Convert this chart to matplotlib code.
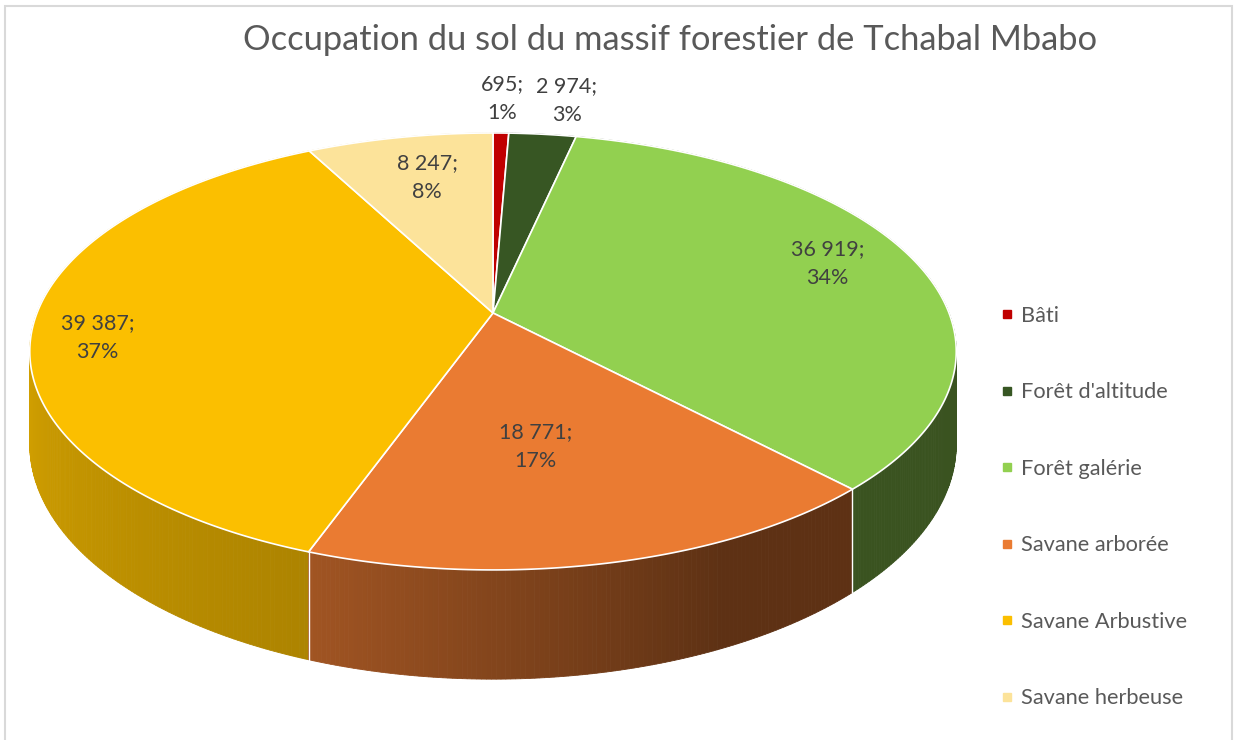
import numpy as np
import matplotlib
matplotlib.use("Agg")
import matplotlib.pyplot as plt
from matplotlib.patches import Polygon
from matplotlib.lines import Line2D
from matplotlib.colors import to_rgb

# ---------------- data ----------------
categories = ["Bâti", "Forêt d'altitude", "Forêt galérie",
              "Savane arborée", "Savane Arbustive", "Savane herbeuse"]
values = [695, 2974, 36919, 18771, 39387, 8247]
value_labels = ["695", "2 974", "36 919", "18 771", "39 387", "8 247"]
percent_labels = ["1%", "3%", "34%", "17%", "37%", "8%"]
colors = ["#C00000", "#375623", "#92D050", "#EA7B32", "#FBBF00", "#FCE39A"]
title = "Occupation du sol du massif forestier de Tchabal Mbabo"

# ---------------- style / geometry ----------------
W, H = 1234, 740
CX, CY = 493, 313          # pie apex
A, B, K, T = 456, 211.7, -0.176, 90   # perspective ellipse params, thickness
label_r = [1.23, 1.23, 0.79, 0.58, 0.86, 0.74]
label_dx = [0, 15, 0, -18, 0, 6]
label_dy = [0, 0, -6, 0, 12, 0]

FONT = ["Lato", "DejaVu Sans"]
plt.rcParams["font.family"] = FONT

fig = plt.figure(figsize=(W / 100, H / 100), dpi=100)
ax = fig.add_axes([0, 0, 1, 1])
ax.set_xlim(0, W)
ax.set_ylim(H, 0)
ax.axis("off")


def proj(r, phi, h=0.0):
    x = r * np.sin(phi)
    y = -r * np.cos(phi)
    w = 1 + K * y
    return CX + A * x / w, CY + (B * y + T * h) / w


def shade(phi_deg):
    return np.interp(phi_deg, [90, 155, 200, 265, 290], [0.40, 0.40, 0.69, 0.85, 0.86])


vals = np.array(values, dtype=float)
frac = vals / vals.sum()
bounds = np.concatenate([[0], np.cumsum(frac)]) * 2 * np.pi

# ---- side walls (drawn back to front) ----
quads = []
for i in range(len(values)):
    a0, a1 = bounds[i], bounds[i + 1]
    n = max(2, int(np.degrees(a1 - a0) * 2))
    ph = np.linspace(a0, a1, n + 1)
    base = np.array(to_rgb(colors[i]))
    for j in range(n):
        p0, p1 = ph[j], ph[j + 1]
        pm = 0.5 * (p0 + p1)
        pts = [proj(1, p0), proj(1, p1), proj(1, p1, 1), proj(1, p0, 1)]
        c = np.clip(base * shade(np.degrees(pm)), 0, 1)
        quads.append((-np.cos(pm), pts, c))
quads.sort(key=lambda q: q[0])
for _, pts, c in quads:
    ax.add_patch(Polygon(pts, closed=True, facecolor=c, edgecolor=c,
                         linewidth=0.6, zorder=1))

# white separators on the wall at slice boundaries
for b in bounds[:-1]:
    x0, y0 = proj(1, b)
    x1, y1 = proj(1, b, 1)
    ax.plot([x0, x1], [y0, y1], color="white", lw=1.0, zorder=2)

# ---- top face ----
for i in range(len(values)):
    a0, a1 = bounds[i], bounds[i + 1]
    ph = np.linspace(a0, a1, max(3, int(np.degrees(a1 - a0) * 2)))
    rim = [proj(1, p) for p in ph]
    pts = [(CX, CY)] + rim
    ax.add_patch(Polygon(pts, closed=True, facecolor=colors[i],
                         edgecolor="white", linewidth=1.2, zorder=3,
                         joinstyle="round"))

# ---- data labels ----
for i in range(len(values)):
    mid = 0.5 * (bounds[i] + bounds[i + 1])
    lx, ly = proj(label_r[i], mid)
    ax.text(lx + label_dx[i], ly + label_dy[i],
            f"{value_labels[i]};\n{percent_labels[i]}",
            ha="center", va="center", fontsize=15.5, color="#404040",
            linespacing=1.55, zorder=5)

# ---- title ----
ax.text(670, 40, title, ha="center", va="center", fontsize=24.8,
        color="#595959", zorder=5)

# ---- legend ----
handles = [Line2D([], [], marker="s", linestyle="", markersize=5.5,
                  markerfacecolor=c, markeredgecolor=c) for c in colors]
leg = ax.legend(handles, categories, loc="upper left",
                bbox_to_anchor=(1000 / W, 1 - 306 / H), frameon=False,
                fontsize=15.7, labelcolor="#595959", handlelength=0.6,
                handletextpad=0.38, labelspacing=2.59, borderpad=0,
                borderaxespad=0)

# ---- chart border ----
ax.plot([5, 5, 1232, 1232], [H + 5, 6, 6, H + 5], color="#D9D9D9",
        lw=1.5, zorder=0, solid_joinstyle="miter")

fig.savefig("out.png", dpi=100)
